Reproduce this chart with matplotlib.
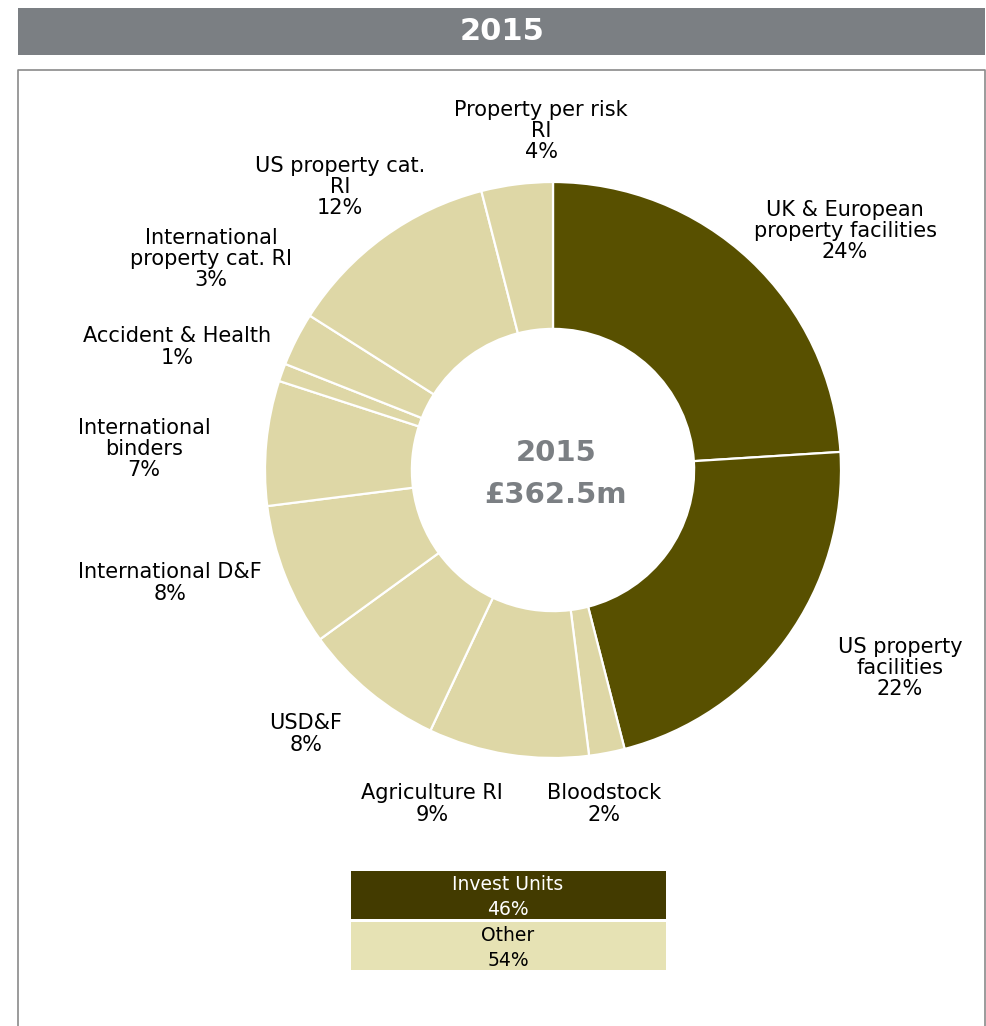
import matplotlib.pyplot as plt
from matplotlib.patches import Rectangle

# segment data, clockwise from 12 o'clock
segments = ["UK & European\nproperty facilities", "US property\nfacilities", "Bloodstock",
            "Agriculture RI", "USD&F", "International D&F", "International\nbinders",
            "Accident & Health", "International\nproperty cat. RI", "US property cat.\nRI",
            "Property per risk\nRI"]
shares = [24, 22, 2, 9, 8, 8, 7, 1, 3, 12, 4]
invest_units = [True, True, False, False, False, False, False, False, False, False, False]

groups = ["Invest Units", "Other"]
group_shares = [46, 54]

year = "2015"
total = "£362.5m"

DARK = "#585000"
LIGHT = "#DED7A6"

W, H = 987, 1026
fig = plt.figure(figsize=(W / 100, H / 100), dpi=100)
ax = fig.add_axes([0, 0, 1, 1])

# header bar and frame
ax.add_patch(Rectangle((18, H - 55), 967, 47, color="#7B7F83", lw=0))
ax.text(502, H - 31, year, ha="center", va="center", color="white",
        fontsize=22, fontweight="bold")
ax.plot([18, 18, 985, 985], [0, H - 70, H - 70, 0], color="#8A8A8A", lw=1.2)

# donut
cx, cy, r = 553, H - 470, 288
colors = [DARK if u else LIGHT for u in invest_units]
ax.pie(shares, colors=colors, startangle=90, counterclock=False, center=(cx, cy),
       radius=r, frame=True,
       wedgeprops=dict(width=r * 0.51, edgecolor="white", linewidth=1.6))
ax.set_xlim(0, W)
ax.set_ylim(0, H)
ax.set_aspect("equal")
ax.axis("off")

ax.text(cx + 3, cy - 4, f"{year}\n{total}", ha="center", va="center",
        color="#7B7F83", fontsize=21, fontweight="bold", linespacing=1.65)

# label anchors (pixel centres of each text block)
label_pos = [(845, 231), (900, 668), (604, 804), (432, 804), (306, 734), (170, 583),
             (144, 449), (177, 347), (211, 259), (340, 187), (541, 131)]
for name, val, (lx, ly) in zip(segments, shares, label_pos):
    ax.text(lx, H - ly, f"{name}\n{val}%", ha="center", va="center",
            fontsize=15, color="black", linespacing=1.08)

# group summary boxes
box_fc = ["#433B00", "#E6E2B4"]
box_tc = ["white", "black"]
box_top = [871, 922]
for g, s, fc, tc, top in zip(groups, group_shares, box_fc, box_tc, box_top):
    ax.add_patch(Rectangle((351, H - top - 48), 315, 48, color=fc, lw=0))
    ax.text(508, H - top - 26, f"{g}\n{s}%", ha="center", va="center",
            color=tc, fontsize=13.5, linespacing=1.45)

fig.savefig("out.png", dpi=100)
